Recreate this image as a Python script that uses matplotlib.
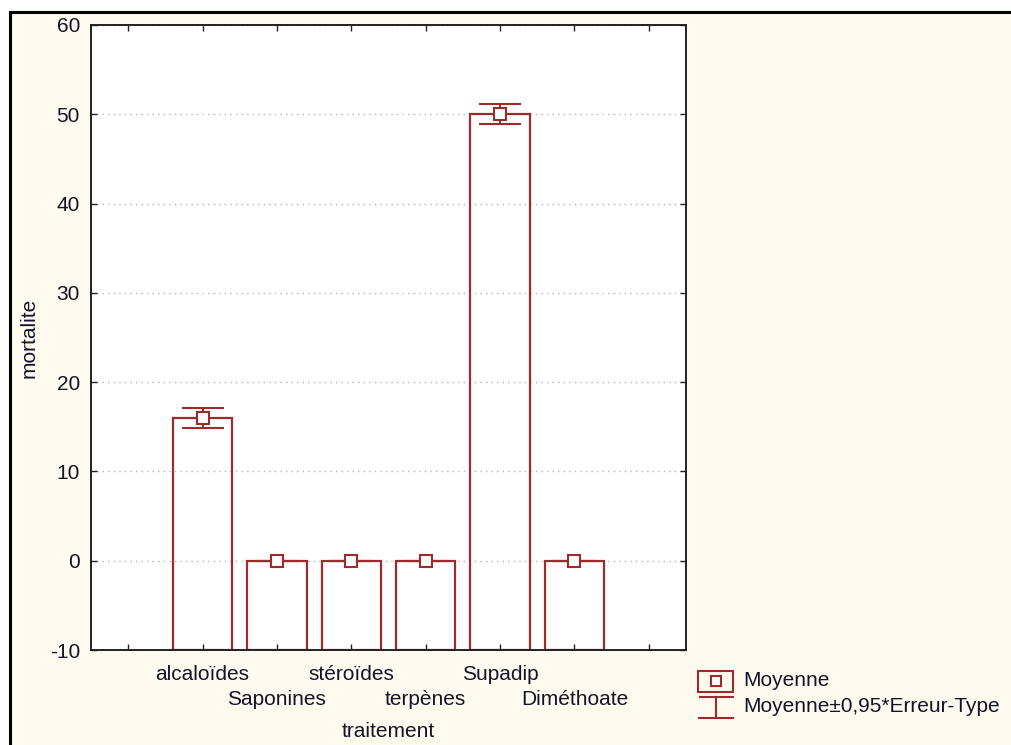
import matplotlib.pyplot as plt
import numpy as np
from matplotlib.lines import Line2D
from matplotlib.patches import Rectangle

plt.rcParams['font.family'] = ['Liberation Sans', 'DejaVu Sans']
plt.rcParams['axes.unicode_minus'] = False

# data
categories = ['', 'alcaloïdes', 'Saponines', 'stéroïdes', 'terpènes', 'Supadip', 'Diméthoate', '']
means = [16, 0, 0, 0, 50, 0]
errors = [1.1, 0, 0, 0, 1.1, 0]
yticks = [-10, 0, 10, 20, 30, 40, 50, 60]

red = '#9E2A2B'
beige = '#FFFAF0'
txt = '#141428'
fs = 15
W, H = 1012, 745

fig = plt.figure(figsize=(W / 100, H / 100), dpi=100)
fig.patch.set_facecolor('white')

def fx(x):
    return x / W

def fy(y):
    return 1 - y / H

# beige panel with black frame on top/left
fig.add_artist(Rectangle((fx(10), 0), 1, fy(12), transform=fig.transFigure,
                         facecolor=beige, edgecolor='none', zorder=-10))
fig.add_artist(Line2D([fx(10), 1], [fy(12), fy(12)], transform=fig.transFigure, color='black', lw=2.2))
fig.add_artist(Line2D([fx(10), fx(10)], [0, fy(12)], transform=fig.transFigure, color='black', lw=2.2))

ax = fig.add_axes([fx(91), fy(650), fx(686) - fx(91), fy(25) - fy(650)])
ax.set_facecolor('white')

pos = np.arange(1, 7)
bottom = -10
ax.bar(pos, np.array(means) - bottom, bottom=bottom, width=0.8, fill=False,
       edgecolor=red, linewidth=1.6, zorder=2)
ax.errorbar(pos, means, yerr=errors, fmt='s', mfc='white', mec=red, mew=1.5, ms=8,
            ecolor=red, elinewidth=1.5, capsize=14.8, capthick=1.5, zorder=3)

ax.set_xlim(-0.5, 7.5)
ax.set_ylim(-10, 60)
ax.set_yticks(yticks)
ticks = np.arange(len(categories))
ax.set_xticks(ticks)
ax.set_xticklabels([c if i % 2 == 1 else '' for i, c in enumerate(categories)])
ax.grid(axis='y', linestyle=(0, (1, 3)), color='#b5b5b5', lw=1)
ax.set_axisbelow(True)

for s in ax.spines.values():
    s.set_color('#222222')
    s.set_linewidth(1.4)
ax.tick_params(axis='both', direction='in', length=4, width=1, color='#222222',
               labelsize=fs, labelcolor=txt, top=True, right=True)
ax.tick_params(axis='x', pad=11)
ax.tick_params(axis='y', pad=8)

# second row of staggered category labels
sec = ax.secondary_xaxis('bottom')
sec.set_xticks(ticks[2::2][:3])
sec.set_xticklabels(categories[2::2][:3])
sec.spines['bottom'].set_visible(False)
sec.tick_params(length=0, pad=29, labelsize=fs, labelcolor=txt)
sec.set_xlabel('traitement', fontsize=fs, color=txt, labelpad=9)
ax.set_ylabel('mortalite', fontsize=fs, color=txt, labelpad=8)

# legend drawn by hand
fig.add_artist(Rectangle((fx(698), fy(692)), fx(733) - fx(698), fy(671) - fy(692),
                         transform=fig.transFigure, fill=False, edgecolor=red, lw=1.5))
fig.add_artist(Line2D([fx(716)], [fy(681)], transform=fig.transFigure, marker='s', ms=7,
                      mfc='white', mec=red, mew=1.5))
fig.add_artist(Line2D([fx(700), fx(733)], [fy(697), fy(697)], transform=fig.transFigure, color=red, lw=1.5))
fig.add_artist(Line2D([fx(716), fx(716)], [fy(697), fy(718)], transform=fig.transFigure, color=red, lw=1.5))
fig.add_artist(Line2D([fx(699), fx(733)], [fy(718), fy(718)], transform=fig.transFigure, color=red, lw=1.5))
fig.text(fx(743), fy(681), 'Moyenne', fontsize=fs, color=txt, va='center')
fig.text(fx(743), fy(707), 'Moyenne±0,95*Erreur-Type', fontsize=fs, color=txt, va='center')

fig.savefig('out.png', dpi=100, facecolor=fig.get_facecolor())
